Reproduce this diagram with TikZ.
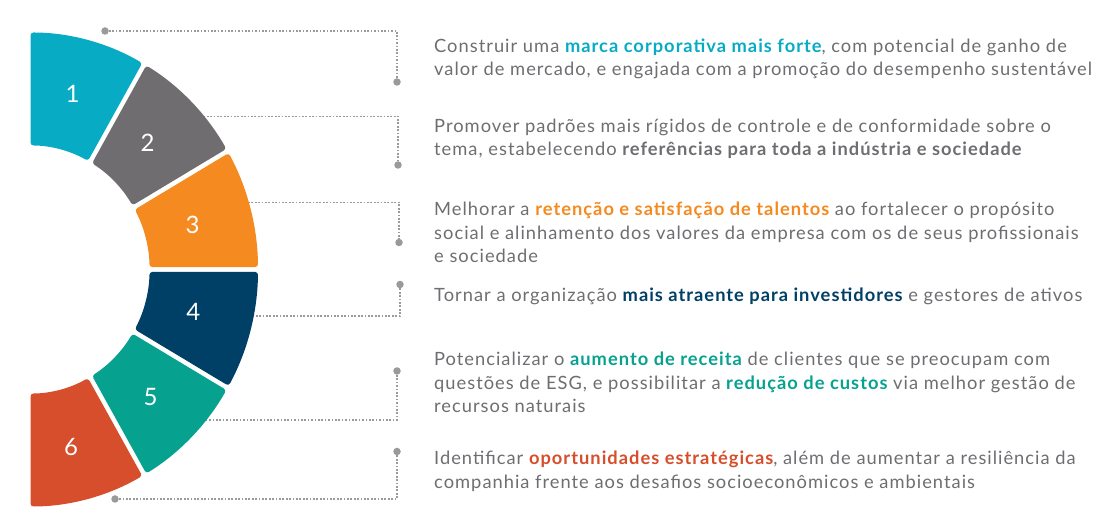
\documentclass[tikz,border=0pt]{standalone}
\usepackage{fontspec}
\setmainfont{Lato}[LetterSpace=5.5]
\newfontfamily\numfont{Lato}
\definecolor{c1}{HTML}{07ACC4}
\definecolor{c2}{HTML}{6F6D70}
\definecolor{c3}{HTML}{F58A20}
\definecolor{c4}{HTML}{003F66}
\definecolor{c5}{HTML}{06A28F}
\definecolor{c6}{HTML}{D64E2B}
\definecolor{txt}{HTML}{6D6E71}
\definecolor{conncol}{HTML}{9A9A9A}
\newcommand{\hlt}[2]{{\bfseries\color{#1}#2}}
\begin{document}
\begin{tikzpicture}[x=1pt,y=1pt,
  numlbl/.style={text=white,font=\numfont\fontsize{24}{24}\selectfont,inner sep=0pt},
  conn/.style={draw=conncol,line width=1.8pt,dash pattern=on 1.7pt off 1.7pt},
  dot/.style={circle,fill=conncol,inner sep=0pt,minimum size=7.5pt},
  desc/.style={anchor=base west,align=left,inner sep=0pt,text=txt,
    font=\fontsize{18.3}{23.5}\selectfont}]
\useasboundingbox (0,0) rectangle (1120,526);
% connector end points
\node[dot] (a1) at (105,495) {};
\node[dot] (d1) at (397,444) {};
\coordinate (s2) at (200,409.5);
\node[dot] (d2) at (398,361) {};
\coordinate (s3) at (248,323.5);
\node[dot] (d3) at (399,283.5) {};
\node[dot] (d4) at (400,241.5) {};
\coordinate (s4) at (252,210);
\node[dot] (d5) at (397,155) {};
\coordinate (s5) at (203,106);
\node[dot] (d6) at (397,74.5) {};
\node[dot] (a6) at (115,27) {};
\draw[conn] (a1) -| (d1);
\draw[conn] (s2) -| (d2);
\draw[conn] (s3) -| (d3);
\draw[conn] (d4) |- (s4);
\draw[conn] (d5) |- (s5);
\draw[conn] (d6) |- (a6);
% ring
\begin{scope}[shift={(30.5,256.5)},xscale=0.96]
\foreach \lo/\hi/\glo/\ghi/\col in {60/90/1/0/c1,30/60/1/1/c2,0/30/1/1/c3,-30/0/1/1/c4,-60/-30/1/1/c5,-90/-60/0/1/c6}{
  \pgfmathsetmacro\oA{\hi-\ghi*asin(2.4/237)}
  \pgfmathsetmacro\oB{\lo+\glo*asin(2.4/237)}
  \pgfmathsetmacro\iA{\lo+\glo*asin(2.4/124)}
  \pgfmathsetmacro\iB{\hi-\ghi*asin(2.4/124)}
  \fill[\col,rounded corners=3pt] (\oA:237) arc[start angle=\oA,end angle=\oB,radius=237]
     -- (\iA:124) arc[start angle=\iA,end angle=\iB,radius=124] -- cycle;
}
\end{scope}
\node[numlbl] (n1) at (72.7,431.7) {1};
\node[numlbl] (n2) at (147.7,383.3) {2};
\node[numlbl] (n3) at (192.7,301) {3};
\node[numlbl] (n4) at (193.3,214.3) {4};
\node[numlbl] (n5) at (150.7,129.3) {5};
\node[numlbl] (n6) at (71,79.3) {6};
% texts
\node[desc] (t1) at (434,450.3) {Construir uma \hlt{c1}{marca corporativa mais forte}, com potencial de ganho de\\valor de mercado, e engajada com a promoção do desempenho sustentável};
\node[desc] (t2) at (434,370) {Promover padrões mais rígidos de controle e de conformidade sobre o\\tema, estabelecendo \hlt{txt}{referências para toda a indústria e sociedade}};
\node[desc] (t3) at (434,263.3) {Melhorar a \hlt{c3}{retenção e satisfação de talentos} ao fortalecer o propósito\\social e alinhamento dos valores da empresa com os de seus profissionais\\e sociedade};
\node[desc] (t4) at (434,224.3) {Tornar a organização \hlt{c4}{mais atraente para investidores} e gestores de ativos};
\node[desc] (t5) at (434,113.3) {Potencializar o \hlt{c5}{aumento de receita} de clientes que se preocupam com\\questões de ESG, e possibilitar a \hlt{c5}{redução de custos} via melhor gestão de\\recursos naturais};
\node[desc] (t6) at (434,37.7) {Identificar \hlt{c6}{oportunidades estratégicas}, além de aumentar a resiliência da\\companhia frente aos desafios socioeconômicos e ambientais};
\end{tikzpicture}
\end{document}
